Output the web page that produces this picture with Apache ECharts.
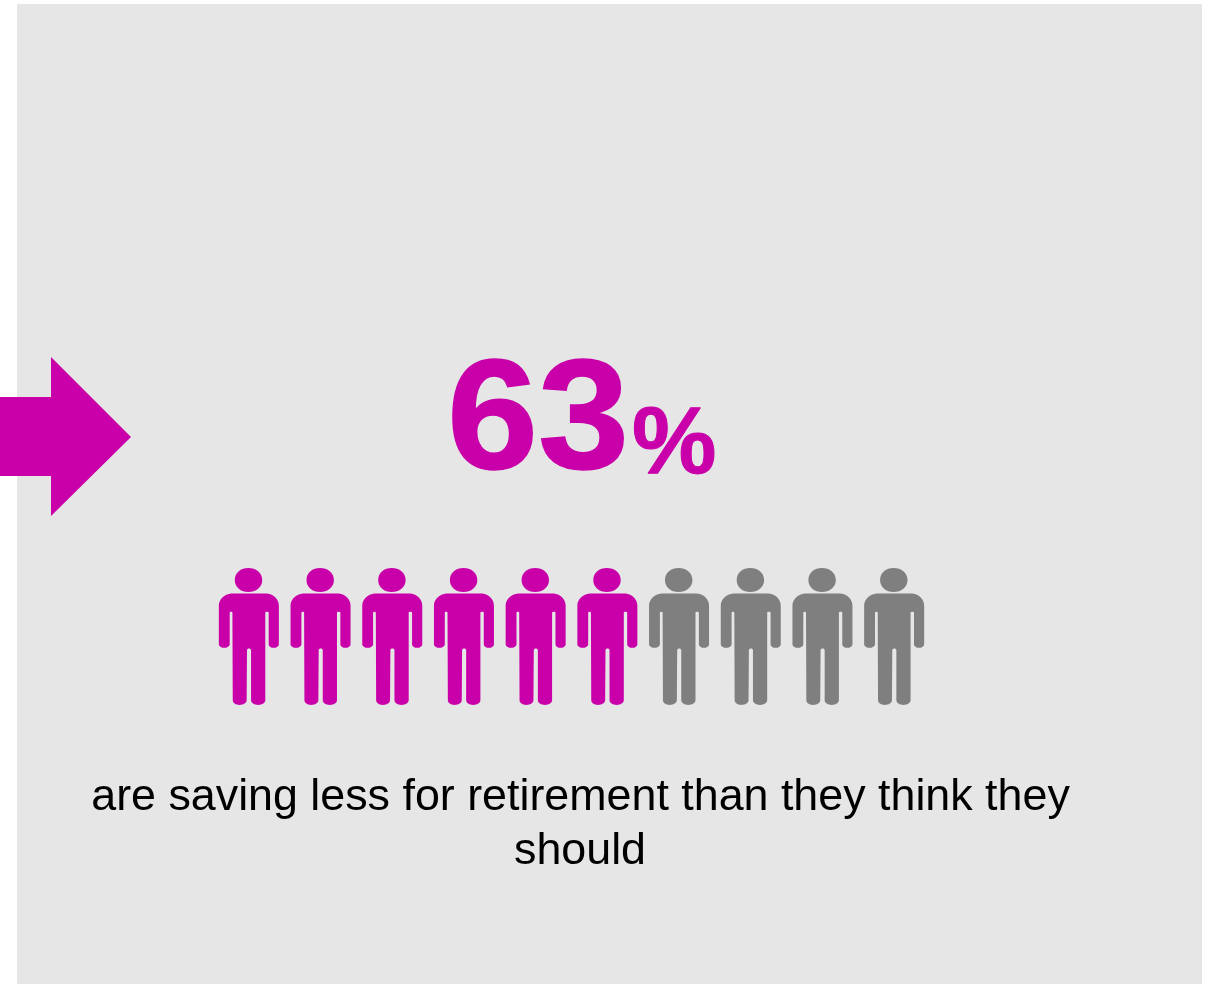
<!DOCTYPE html>
<html>
<head>
<meta charset="utf-8">
<style>
  html, body { margin: 0; padding: 0; background: #ffffff; }
  #chart { width: 1210px; height: 984px; }
</style>
<script src="https://cdn.jsdelivr.net/npm/echarts@6/dist/echarts.min.js"></script>
</head>
<body>
<div id="chart"></div>
<script>
// Ten-person pictogram: each slot is one person in ten
const slots = ['1', '2', '3', '4', '5', '6', '7', '8', '9', '10'];
const savingLess = [1, 1, 1, 1, 1, 1, null, null, null, null];
const others = [null, null, null, null, null, null, 1, 1, 1, 1];

const headline = '63';
const headlineUnit = '%';
const captionLines = ['are saving less for retirement than they think they', 'should'];

const MAGENTA = '#C900A9';
const GREY = '#7F7F7F';
const PANEL = '#E6E6E6';
const FONT = '"Liberation Sans", Arial, sans-serif';

// Standing figure: head plus body with arms and legs
const person = 'path://' +
  'M75 60C75 38 93 24 115 24C137 24 156 38 156 60C156 82 137 96 115 96C93 96 75 82 75 60Z' +
  'M65 100L170 100C190 102 205 118 205 136L205 252C205 258 198 263 190 263C182 263 175 258 175 252' +
  'L175 158C175 154 165 154 165 158L165 420C165 428 155 434 144 434C133 434 123 428 123 420' +
  'L123 270C123 263 111 263 111 270L110 420C110 428 100 434 89 434C78 434 69 428 69 420' +
  'L68 158C68 154 60 154 60 158L60 252C60 258 52 263 44 263C36 263 28 258 28 252L28 136' +
  'C28 118 44 102 65 100Z';

function figureSeries(values, color) {
  return {
    type: 'pictorialBar',
    data: values,
    symbol: person,
    symbolSize: [60, '100%'],
    symbolPosition: 'start',
    barGap: '-100%',
    barCategoryGap: 0,
    silent: true,
    itemStyle: { color: color }
  };
}

const chart = echarts.init(document.getElementById('chart'), null, { renderer: 'canvas' });
chart.setOption({
  animation: false,
  backgroundColor: '#ffffff',
  grid: { left: 213, width: 717, top: 568, height: 137 },
  xAxis: { type: 'category', data: slots, show: false },
  yAxis: { type: 'value', min: 0, max: 1, show: false },
  series: [figureSeries(savingLess, MAGENTA), figureSeries(others, GREY)],
  graphic: [
    {
      type: 'rect', z: -10, silent: true,
      shape: { x: 17, y: 4, width: 1185, height: 980 },
      style: { fill: PANEL }
    },
    {
      type: 'polygon', silent: true,
      shape: { points: [[0, 397], [51, 397], [51, 357], [131, 437], [51, 516], [51, 476], [0, 476]] },
      style: { fill: MAGENTA }
    },
    {
      type: 'text', silent: true, x: 447, y: 503, scaleX: 1.05,
      style: { text: headline, font: 'bold 156px ' + FONT, fill: MAGENTA, stroke: MAGENTA, lineWidth: 1.5, textAlign: 'left', verticalAlign: 'bottom' }
    },
    {
      type: 'text', silent: true, x: 632, y: 494,
      style: { text: headlineUnit, font: 'bold 95px ' + FONT, fill: MAGENTA, stroke: MAGENTA, lineWidth: 1, textAlign: 'left', verticalAlign: 'bottom' }
    },
    {
      type: 'text', silent: true, x: 580.5, y: 775,
      style: { text: captionLines[0], font: '44.8px ' + FONT, fill: '#000000', textAlign: 'center', verticalAlign: 'top' }
    },
    {
      type: 'text', silent: true, x: 580, y: 829,
      style: { text: captionLines[1], font: '44.8px ' + FONT, fill: '#000000', textAlign: 'center', verticalAlign: 'top' }
    }
  ]
});
</script>
</body>
</html>
